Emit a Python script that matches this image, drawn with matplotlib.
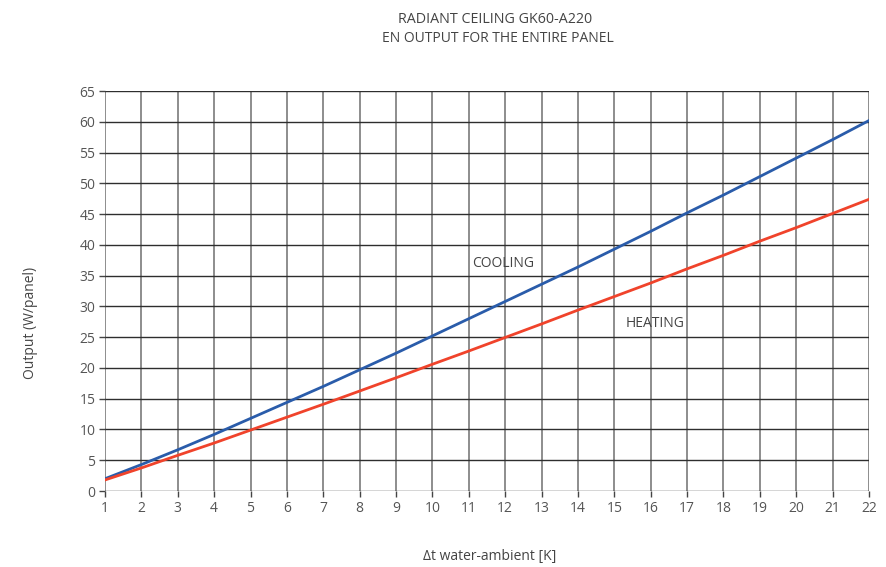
import matplotlib.pyplot as plt

# dati
delta_t = [1, 2, 3, 4, 5, 6, 7, 8, 9, 10, 11, 12, 13, 14, 15, 16, 17, 18, 19, 20, 21, 22]
cooling = [2.0, 4.3, 6.7, 9.2, 11.8, 14.4, 17.0, 19.7, 22.4, 25.2, 28.0, 30.8,
           33.6, 36.4, 39.3, 42.2, 45.2, 48.1, 51.1, 54.1, 57.1, 60.2]
heating = [1.8, 3.75, 5.8, 7.8, 9.9, 12.0, 14.1, 16.25, 18.4, 20.6, 22.75, 24.95,
           27.15, 29.4, 31.6, 33.8, 36.1, 38.3, 40.6, 42.8, 45.1, 47.4]

x_ticks = list(range(1, 23))
y_ticks = list(range(0, 70, 5))

plt.rcParams['font.family'] = ['Open Sans', 'DejaVu Sans']

fig = plt.figure(figsize=(8.87, 5.67), dpi=100)
ax = fig.add_axes([0.1184, 0.134, 0.8613, 0.7055])

# griglia: verticali grigie, orizzontali scure
for xv in x_ticks:
    ax.axvline(xv, color='#7a7a7a', lw=1.2, zorder=1)
for yv in y_ticks:
    ax.axhline(yv, color='#2e2e2e', lw=1.0, zorder=1)

ax.plot(delta_t, cooling, color='#2a5caa', lw=2.0, zorder=3)
ax.plot(delta_t, heating, color='#f0432b', lw=2.0, zorder=3)

ax.text(11.1, 37.0, 'COOLING', fontsize=10, color='#444444', va='center', ha='left')
ax.text(15.3, 27.3, 'HEATING', fontsize=10, color='#444444', va='center', ha='left')

ax.set_xlim(1, 22)
ax.set_ylim(0, 65)
ax.set_xticks(x_ticks)
ax.set_yticks(y_ticks)
for s in ax.spines.values():
    s.set_visible(False)
ax.tick_params(direction='out', length=4, width=1, color='#444444',
               labelcolor='#555555', labelsize=10, pad=3)

ax.set_xlabel('Δt water-ambient [K]', fontsize=10, color='#444444')
ax.set_ylabel('Output (W/panel)', fontsize=10, color='#444444')
ax.xaxis.set_label_coords(0.504, -0.145)
ax.yaxis.set_label_coords(-0.088, 0.42)

fig.text(0.558, 0.965, 'RADIANT CEILING GK60-A220', ha='center', va='center',
         fontsize=10.3, color='#444444')
fig.text(0.561, 0.932, 'EN OUTPUT FOR THE ENTIRE PANEL', ha='center', va='center',
         fontsize=10, color='#444444')

fig.savefig('out.png', dpi=100)
